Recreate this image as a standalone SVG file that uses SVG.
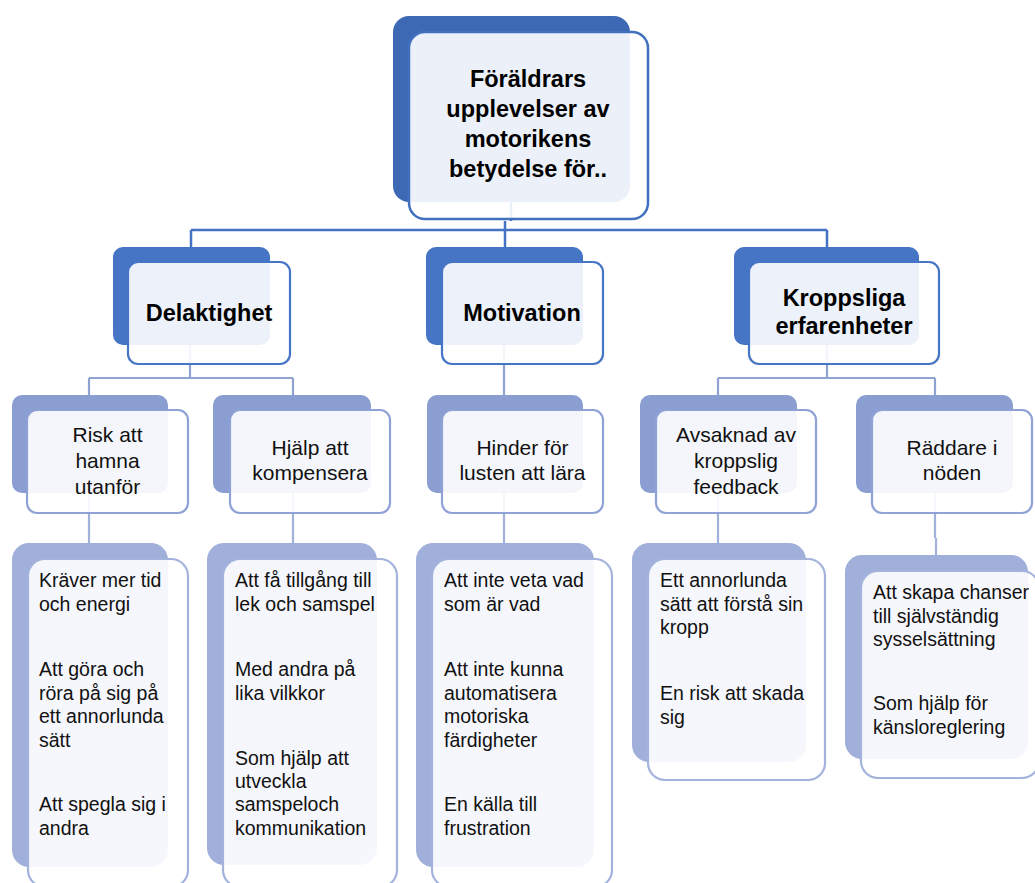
<svg xmlns="http://www.w3.org/2000/svg" width="1035" height="883" viewBox="0 0 1035 883">
<style>
.b1{fill:#3D69B4}
.b2{fill:#4775C5}
.b3{fill:#8A9ED2}
.b4{fill:#A0B0DA}
.f1{fill:#fff;fill-opacity:0.9;stroke:#4170BF;stroke-width:2.5}
.f2{fill:#fff;fill-opacity:0.9;stroke:#4775C5;stroke-width:2.2}
.f3{fill:#fff;fill-opacity:0.9;stroke:#8FA2D6;stroke-width:2.2}
.f4{fill:#fff;fill-opacity:0.9;stroke:#A3B3DC;stroke-width:2.2}
.c1{fill:none;stroke:#4472C4;stroke-width:2.5}
.c2{fill:none;stroke:#8FA2D4;stroke-width:2.2}
.c3{fill:none;stroke:#A0B1DA;stroke-width:2.2}
.h{font-family:"Liberation Sans",Arial,sans-serif;font-weight:bold;font-size:23.5px;fill:#000;text-anchor:middle}
.m{font-family:"Liberation Sans",Arial,sans-serif;font-size:21px;fill:#111;text-anchor:middle}
.s{font-family:"Liberation Sans",Arial,sans-serif;font-size:19.5px;fill:#111}
</style>
<g id="connectors">
<path class="c1" d="M511,202V221M505,221V230M191,230H827M191,230V247M505,230V247M827,230V247"/>
<path class="c2" d="M190,345V378M89,378H293M89,378V395M293,378V395M504,345V395M827,345V378M718,378H935M718,378V395M935,378V395"/>
<path class="c3" d="M89,493V543M293,493V543M504,493V543M718,493V543M935,493V538M936,538V556"/>
</g>
<g id="root">
<rect class="b1" x="393" y="16" width="237" height="186" rx="16"/>
<rect class="f1" x="409" y="32" width="239" height="187" rx="16"/>
<text class="h" x="528" y="87">Föräldrars</text>
<text class="h" x="528" y="117">upplevelser av</text>
<text class="h" x="528" y="147">motorikens</text>
<text class="h" x="528" y="177">betydelse för..</text>
</g>
<g id="delaktighet">
<rect class="b2" x="113" y="247" width="157" height="98" rx="10"/>
<rect class="f2" x="128" y="262" width="162" height="102" rx="10"/>
<text class="h" x="209" y="321">Delaktighet</text>
</g>
<g id="motivation">
<rect class="b2" x="426" y="247" width="157" height="98" rx="10"/>
<rect class="f2" x="442" y="262" width="161" height="102" rx="10"/>
<text class="h" x="522" y="321">Motivation</text>
</g>
<g id="kroppsliga">
<rect class="b2" x="734" y="247" width="185" height="98" rx="10"/>
<rect class="f2" x="749" y="262" width="190" height="102" rx="10"/>
<text class="h" x="844" y="306">Kroppsliga</text>
<text class="h" x="844" y="334">erfarenheter</text>
</g>
<g id="risk">
<rect class="b3" x="12" y="395" width="156" height="98" rx="10"/>
<rect class="f3" x="27" y="410" width="161" height="103" rx="10"/>
<text class="m" x="107.5" y="442">Risk att</text>
<text class="m" x="107.5" y="468">hamna</text>
<text class="m" x="107.5" y="494">utanför</text>
</g>
<g id="hjalp">
<rect class="b3" x="213" y="395" width="158" height="98" rx="10"/>
<rect class="f3" x="230" y="410" width="160" height="103" rx="10"/>
<text class="m" x="310" y="455">Hjälp att</text>
<text class="m" x="310" y="480">kompensera</text>
</g>
<g id="hinder">
<rect class="b3" x="427" y="395" width="156" height="98" rx="10"/>
<rect class="f3" x="442" y="410" width="161" height="103" rx="10"/>
<text class="m" x="522.5" y="455">Hinder för</text>
<text class="m" x="522.5" y="480">lusten att lära</text>
</g>
<g id="avsaknad">
<rect class="b3" x="640" y="395" width="157" height="98" rx="10"/>
<rect class="f3" x="656" y="410" width="160" height="103" rx="10"/>
<text class="m" x="736" y="442">Avsaknad av</text>
<text class="m" x="736" y="468">kroppslig</text>
<text class="m" x="736" y="494">feedback</text>
</g>
<g id="raddare">
<rect class="b3" x="856" y="395" width="157" height="98" rx="10"/>
<rect class="f3" x="872" y="410" width="160" height="103" rx="10"/>
<text class="m" x="952" y="455">Räddare i</text>
<text class="m" x="952" y="480">nöden</text>
</g>
<g id="risk-detaljer">
<rect class="b4" x="12" y="543" width="156" height="324" rx="17"/>
<rect class="f4" x="28" y="559" width="160" height="328" rx="17"/>
<text class="s" x="39" y="587">Kräver mer tid</text>
<text class="s" x="39" y="610.5">och energi</text>
<text class="s" x="39" y="676">Att göra och</text>
<text class="s" x="39" y="699.5">röra på sig på</text>
<text class="s" x="39" y="723">ett annorlunda</text>
<text class="s" x="39" y="746.5">sätt</text>
<text class="s" x="39" y="811">Att spegla sig i</text>
<text class="s" x="39" y="834.5">andra</text>
</g>
<g id="hjalp-detaljer">
<rect class="b4" x="207" y="543" width="170" height="322" rx="17"/>
<rect class="f4" x="223" y="559" width="174" height="328" rx="17"/>
<text class="s" x="235" y="587">Att få tillgång till</text>
<text class="s" x="235" y="610.5">lek och samspel</text>
<text class="s" x="235" y="676">Med andra på</text>
<text class="s" x="235" y="699.5">lika vilkkor</text>
<text class="s" x="235" y="764.5">Som hjälp att</text>
<text class="s" x="235" y="788">utveckla</text>
<text class="s" x="235" y="811">samspeloch</text>
<text class="s" x="235" y="834.5">kommunikation</text>
</g>
<g id="hinder-detaljer">
<rect class="b4" x="416" y="543" width="178" height="324" rx="17"/>
<rect class="f4" x="432" y="559" width="180" height="328" rx="17"/>
<text class="s" x="444" y="587">Att inte veta vad</text>
<text class="s" x="444" y="610.5">som är vad</text>
<text class="s" x="444" y="676">Att inte kunna</text>
<text class="s" x="444" y="699.5">automatisera</text>
<text class="s" x="444" y="723">motoriska</text>
<text class="s" x="444" y="746.5">färdigheter</text>
<text class="s" x="444" y="811">En källa till</text>
<text class="s" x="444" y="834.5">frustration</text>
</g>
<g id="avsaknad-detaljer">
<rect class="b4" x="632" y="543" width="174" height="219" rx="17"/>
<rect class="f4" x="648" y="559" width="177" height="221" rx="17"/>
<text class="s" x="660" y="587">Ett annorlunda</text>
<text class="s" x="660" y="610.5">sätt att förstå sin</text>
<text class="s" x="660" y="634">kropp</text>
<text class="s" x="660" y="700">En risk att skada</text>
<text class="s" x="660" y="723.5">sig</text>
</g>
<g id="raddare-detaljer">
<rect class="b4" x="845" y="555" width="183" height="204" rx="17"/>
<rect class="f4" x="861" y="571" width="178" height="207" rx="17"/>
<text class="s" x="873" y="599">Att skapa chanser</text>
<text class="s" x="873" y="622.5">till självständig</text>
<text class="s" x="873" y="646">sysselsättning</text>
<text class="s" x="873" y="710">Som hjälp för</text>
<text class="s" x="873" y="733.5">känsloreglering</text>
</g>
</svg>
